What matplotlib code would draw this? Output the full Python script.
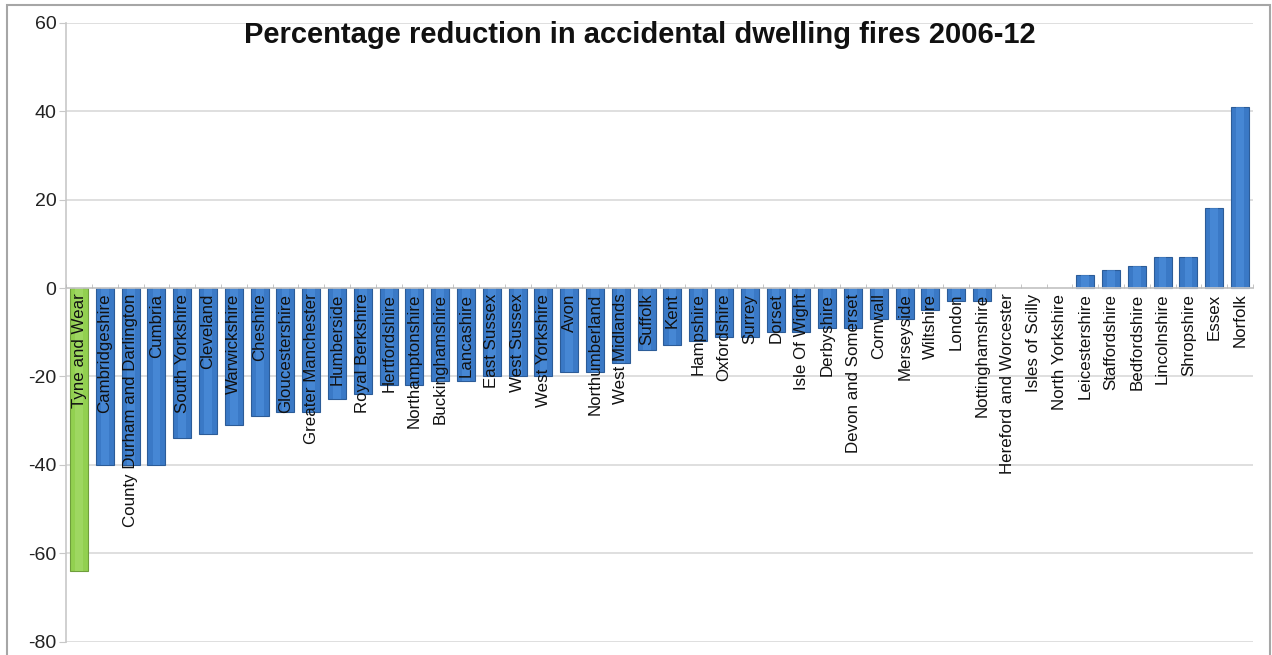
import matplotlib.pyplot as plt
import matplotlib.patches as mpatches
import numpy as np

plt.rcParams['font.family'] = ['Liberation Sans', 'DejaVu Sans']
plt.rcParams['axes.unicode_minus'] = False

# fire and rescue service areas, ordered by change 2006-12 (%)
areas = ['Tyne and Wear', 'Cambridgeshire', 'County Durham and Darlington', 'Cumbria',
         'South Yorkshire', 'Cleveland', 'Warwickshire', 'Cheshire', 'Gloucestershire',
         'Greater Manchester', 'Humberside', 'Royal Berkshire', 'Hertfordshire',
         'Northamptonshire', 'Buckinghamshire', 'Lancashire', 'East Sussex', 'West Sussex',
         'West Yorkshire', 'Avon', 'Northumberland', 'West Midlands', 'Suffolk', 'Kent',
         'Hampshire', 'Oxfordshire', 'Surrey', 'Dorset', 'Isle Of Wight', 'Derbyshire',
         'Devon and Somerset', 'Cornwall', 'Merseyside', 'Wiltshire', 'London',
         'Nottinghamshire', 'Hereford and Worcester', 'Isles of Scilly', 'North Yorkshire',
         'Leicestershire', 'Staffordshire', 'Bedfordshire', 'Lincolnshire', 'Shropshire',
         'Essex', 'Norfolk']
change = [-64, -40, -40, -40, -34, -33, -31, -29, -28, -28, -25, -24, -22, -22, -21, -21,
          -20, -20, -20, -19, -19, -17, -14, -13, -12, -11, -11, -10, -10, -9, -9, -7, -7,
          -5, -3, -3, 0, 0, 0, 3, 4, 5, 7, 7, 18, 41]
highlight = 'Tyne and Wear'

x = np.arange(len(areas))
face = ['#92D050' if a == highlight else '#3A79C6' for a in areas]
edge = ['#6E9E3C' if a == highlight else ('#2C5C98' if v != 0 else 'none')
        for a, v in zip(areas, change)]
shine = ['#A9DE70' if a == highlight else '#5193E0' for a in areas]

fig = plt.figure(figsize=(12.72, 6.55), dpi=100)
ax = fig.add_axes([0.052, 0.0203, 0.933, 0.945])

ax.bar(x, change, width=0.7, color=face, edgecolor=edge, linewidth=0.8)
# lighter middle strip for a bit of a rounded look
ax.bar(x, change, width=0.3, color=shine, linewidth=0, alpha=0.55)

ax.set_xlim(-0.5, len(areas) - 0.5)
ax.set_ylim(-80, 60)
ax.set_yticks(np.arange(-80, 61, 20))
ax.yaxis.grid(True, color='#D9D9D9', linewidth=1.2)
ax.set_axisbelow(True)
ax.xaxis.set_zorder(3)  # keep category names on top of the bars

for s in ['top', 'right']:
    ax.spines[s].set_visible(False)
ax.spines['left'].set_color('#C8C8C8')
ax.spines['left'].set_linewidth(1.2)
ax.spines['bottom'].set_position(('data', 0))
ax.spines['bottom'].set_color('#C8C8C8')
ax.spines['bottom'].set_linewidth(1.2)

ax.set_xticks(x)
ax.set_xticklabels(areas, rotation=90, ha='center', va='top', fontsize=12.2, color='#111111')
ax.set_xticks(np.arange(len(areas) + 1) - 0.5, minor=True)
ax.tick_params(axis='x', which='major', length=0, pad=4)
ax.tick_params(axis='x', which='minor', direction='in', length=3, color='#BBBBBB')
ax.tick_params(axis='y', length=5, color='#C8C8C8', labelsize=14, labelcolor='#222222', pad=2)

fig.text(0.503, 0.947, 'Percentage reduction in accidental dwelling fires 2006-12',
         ha='center', va='center', fontsize=21, fontweight='bold', color='#111111')

# chart frame
fig.patches.append(mpatches.Rectangle((0.0055, -0.02), 0.993, 1.012, transform=fig.transFigure,
                                      fill=False, edgecolor='#A6A6A6', linewidth=1.5))

fig.savefig('out.png', dpi=100, facecolor='white')
